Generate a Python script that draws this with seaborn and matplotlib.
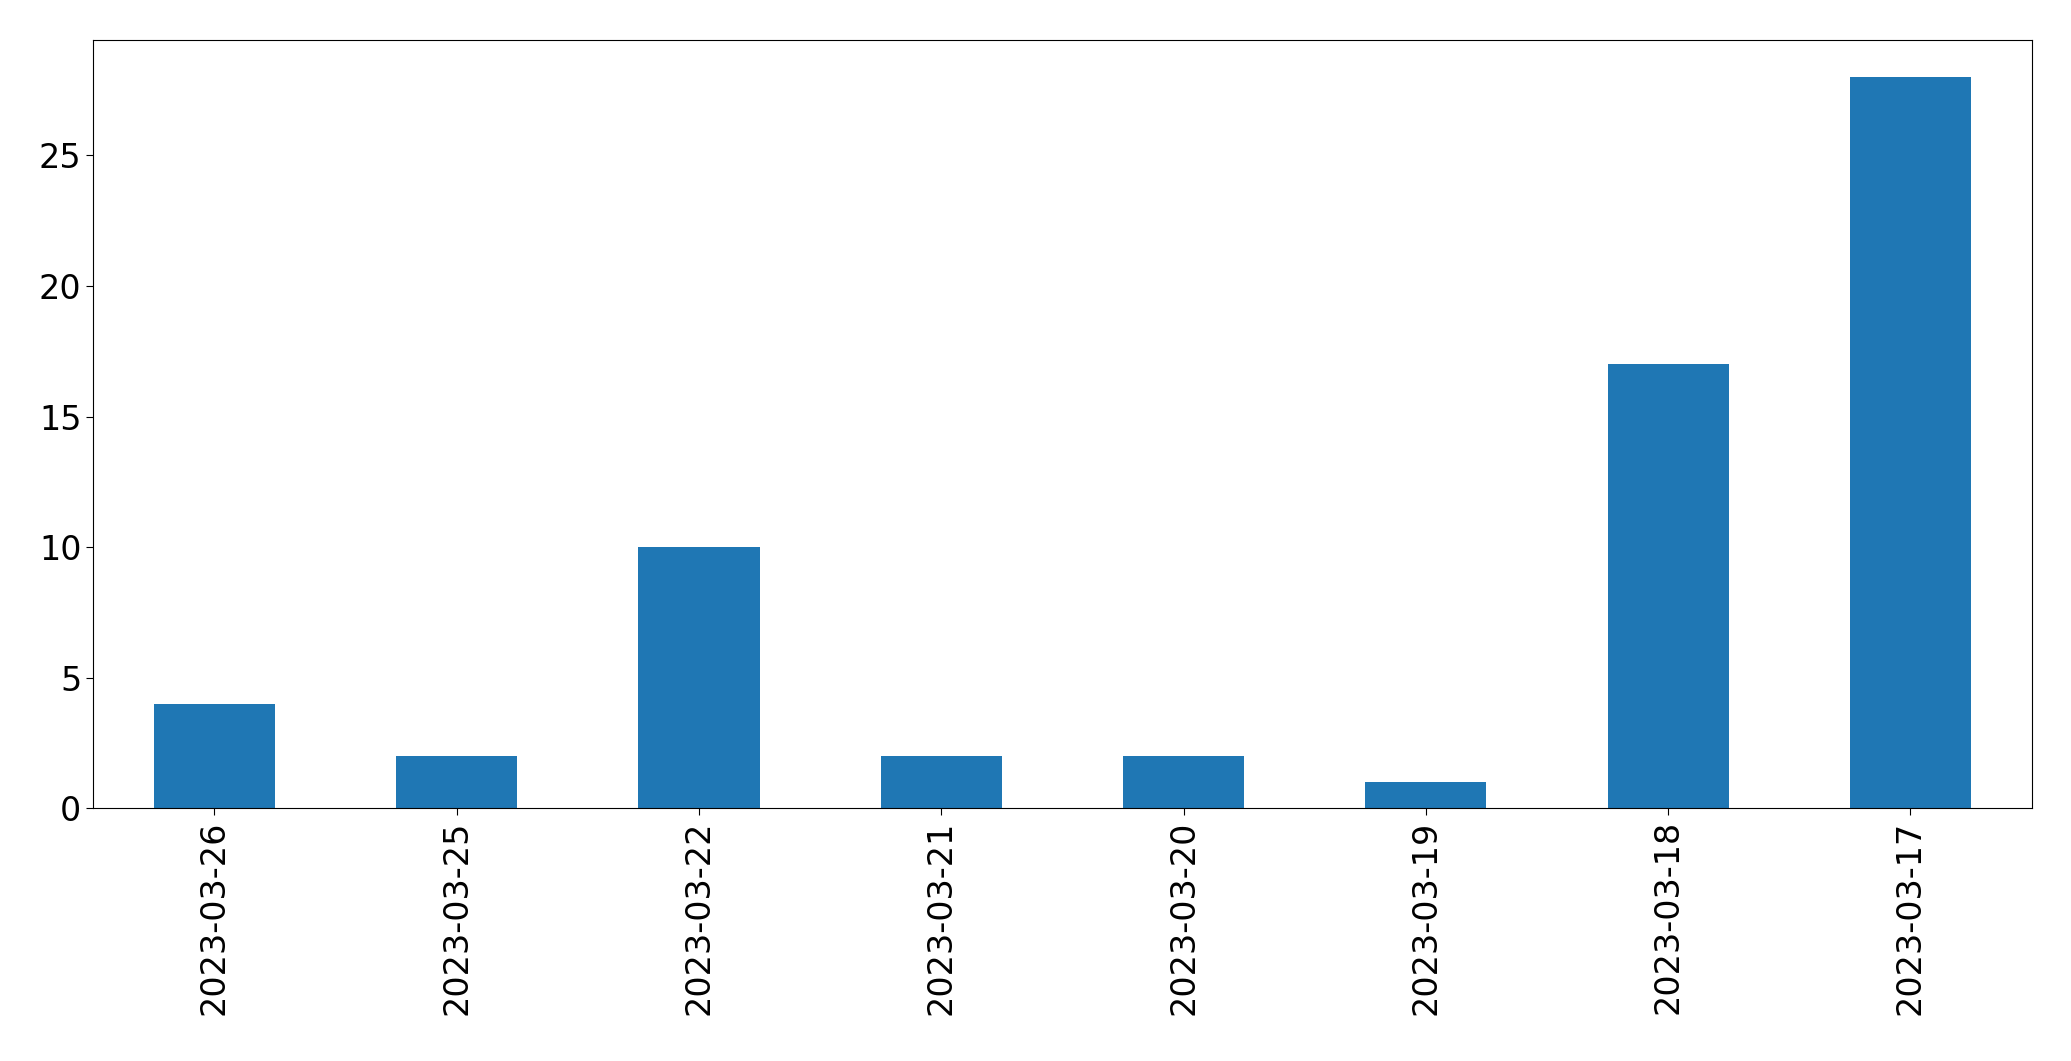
import matplotlib
matplotlib.use("Agg")
import matplotlib.pyplot as plt
import seaborn as sns
import pandas as pd

dates = ["2023-03-26", "2023-03-25", "2023-03-22", "2023-03-21",
         "2023-03-20", "2023-03-19", "2023-03-18", "2023-03-17"]
counts = [4, 2, 10, 2, 2, 1, 17, 28]

df = pd.DataFrame({"date": dates, "count": counts})

sns.set_style("ticks", {"axes.edgecolor": "black",
                        "xtick.color": "black",
                        "ytick.color": "black",
                        "text.color": "black"})
plt.rcParams["font.family"] = ["DejaVu Sans"]

fig = plt.figure(figsize=(20.71, 10.61), dpi=100)
ax = fig.add_axes([0.045, 0.238, 0.936, 0.724])

sns.barplot(
    x="date",
    y="count",
    data=df,
    color="#1f77b4",
    saturation=1,
    width=0.5,
    linewidth=0,
    ax=ax
)

ax.set_ylim(0, 29.4)
ax.set_xlim(-0.5, len(dates) - 0.5)
ax.set_xlabel("")
ax.set_ylabel("")
ax.tick_params(axis="both", labelsize=24, length=5, colors="black")
plt.setp(ax.get_xticklabels(), rotation=90)
for s in ax.spines.values():
    s.set_visible(True)
    s.set_linewidth(0.8)
    s.set_color("black")

fig.savefig("out.png", dpi=100)
